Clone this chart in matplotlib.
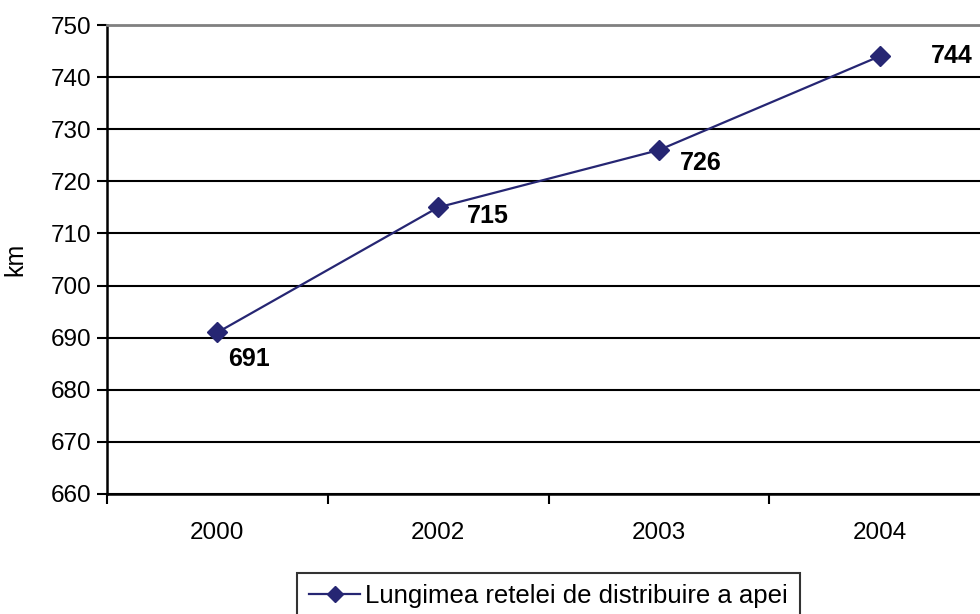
import numpy as np
import matplotlib
matplotlib.use('Agg')
import matplotlib.pyplot as plt

plt.rcParams['font.family'] = ['Liberation Sans', 'DejaVu Sans']

years = ['2000', '2002', '2003', '2004']
lengths = [691, 715, 726, 744]
series_name = 'Lungimea retelei de distribuire a apei'

# label offsets in points (dx, dy) for each value label
label_offsets = [(23, -19), (36, -6), (30, -9), (52, 0)]

fig = plt.figure(figsize=(9.8, 6.14), dpi=100)
ax = fig.add_axes([107 / 980, 120 / 614, 883 / 980, 469 / 614])

x = np.arange(len(years))
ax.plot(x, lengths, color='#262673', lw=1.6, marker='D', ms=10, mfc='#262673', mec='#262673',
        label=series_name, clip_on=False, zorder=3)

for xi, v, off in zip(x, lengths, label_offsets):
    ax.annotate(str(v), (xi, v), xytext=off, textcoords='offset points', ha='center', va='center',
                fontsize=18, fontweight='bold')

ax.set_xlim(-0.5, len(years) - 0.5)
ax.set_ylim(660, 750)
ax.set_yticks(np.arange(660, 751, 10))
ax.set_xticks(x)
ax.set_xticklabels(years)
ax.set_xticks(np.arange(-0.5, len(years), 1), minor=True)
ax.tick_params(axis='x', which='major', length=0, pad=20, labelsize=17.5)
ax.tick_params(axis='x', which='minor', length=7, width=1.5, direction='out')
ax.tick_params(axis='y', length=7, width=1.5, labelsize=17.5, pad=4)
ax.yaxis.grid(True, color='black', lw=1.5)
ax.set_axisbelow(True)
for s in ['left', 'bottom']:
    ax.spines[s].set_linewidth(1.8)
ax.spines['top'].set_color('#808080')
ax.spines['top'].set_linewidth(2)
ax.spines['right'].set_visible(False)
ax.set_ylabel('km', fontsize=18, labelpad=17)

leg = ax.legend(loc='upper center', bbox_to_anchor=(0.5, -0.14), fontsize=18.5, frameon=True,
                fancybox=False, edgecolor='black', handlelength=2.0, handletextpad=0.2,
                borderpad=0.45, markerscale=0.8)
leg.get_frame().set_linewidth(1.5)

fig.savefig('out.png', dpi=100)
